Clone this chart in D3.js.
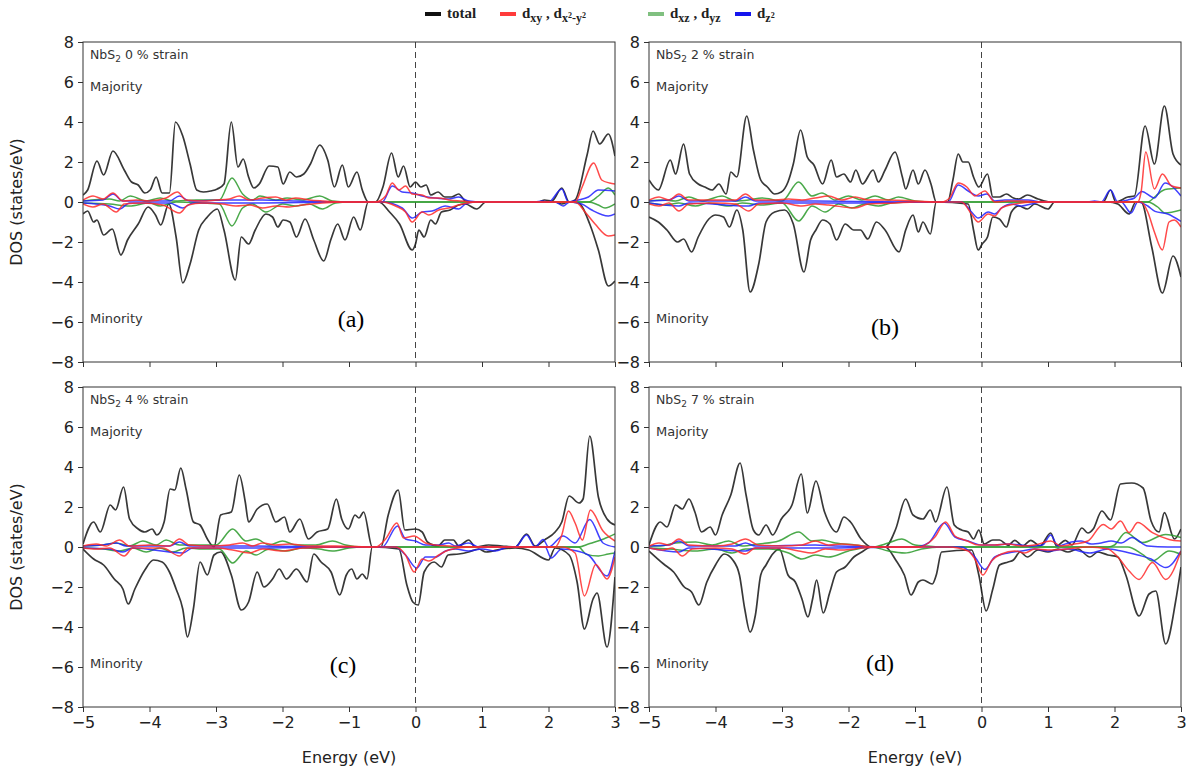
<!DOCTYPE html>
<html>
<head>
<meta charset="utf-8">
<script src="https://cdn.jsdelivr.net/npm/d3@7"></script>
<style>
  body { margin: 0; background: #fff; }
  text { font-family: "DejaVu Sans", sans-serif; }
  text.serif, text.serif tspan { font-family: "Liberation Serif", "Times New Roman", serif; }
</style>
</head>
<body>
<svg id="chart" width="1197" height="774"></svg>
<script>
// ---- data: [energy (eV), DOS (states/eV)] ----
const xTicks = [-5, -4, -3, -2, -1, 0, 1, 2, 3];
const yTicks = [-8, -6, -4, -2, 0, 2, 4, 6, 8];
const strains = ['0', '2', '4', '7'];
const tags = ['(a)', '(b)', '(c)', '(d)'];

// panel (a) 0 % strain
const totalUpA = [[-5,0.35],[-4.93,0.6],[-4.79,2.05],[-4.69,1.35],[-4.55,2.55],[-4.38,1.6],[-4.27,1.0],[-4.17,0.85],[-4.07,0.45],[-3.99,0.6],[-3.9,1.25],[-3.81,0.45],[-3.7,0.45],[-3.61,4.0],[-3.5,3.3],[-3.39,1.9],[-3.29,0.6],[-3.19,0.5],[-3.08,0.55],[-2.98,0.65],[-2.88,0.9],[-2.77,4.0],[-2.67,1.75],[-2.59,2.15],[-2.51,1.25],[-2.43,0.7],[-2.35,0.9],[-2.2,1.8],[-2.07,1.75],[-1.99,0.9],[-1.89,1.5],[-1.79,1.25],[-1.68,1.4],[-1.58,1.9],[-1.44,2.85],[-1.32,2.1],[-1.22,0.75],[-1.1,1.85],[-1.01,0.75],[-0.88,1.5],[-0.8,0.6],[-0.71,0],[-0.6,0],[-0.49,0.75],[-0.36,2.45],[-0.26,1.25],[-0.18,1.8],[-0.08,0.75],[0,1.0],[0.08,0.75],[0.16,0.85],[0.23,0.35],[0.34,0.5],[0.44,0.25],[0.54,0.25],[0.65,0.4],[0.75,0.05],[0.9,0],[1.85,0],[1.94,0.1],[2.05,0.05],[2.2,0.7],[2.31,0],[2.4,0.1],[2.58,2.35],[2.67,3.55],[2.77,2.9],[2.9,3.4],[3,2.3]];
const totalDnA = [[-5,-0.6],[-4.93,-0.45],[-4.84,-1.0],[-4.79,-0.9],[-4.69,-1.65],[-4.56,-1.35],[-4.43,-2.65],[-4.33,-1.9],[-4.17,-1.1],[-4.02,-0.25],[-3.91,-0.65],[-3.83,-1.15],[-3.71,-0.1],[-3.6,-1.75],[-3.5,-4.05],[-3.39,-3.1],[-3.26,-1.4],[-3.13,-0.75],[-2.98,-0.35],[-2.88,-1.4],[-2.71,-3.9],[-2.62,-1.75],[-2.51,-2.1],[-2.41,-1.4],[-2.25,-0.6],[-2.15,-0.75],[-2.07,-1.25],[-1.99,-0.9],[-1.89,-1.0],[-1.79,-1.75],[-1.66,-0.85],[-1.53,-1.9],[-1.38,-2.95],[-1.27,-1.85],[-1.17,-1.1],[-1.06,-1.9],[-0.93,-0.75],[-0.83,-1.4],[-0.71,0],[-0.55,0],[-0.39,-0.5],[-0.24,-1.1],[-0.05,-2.4],[0,-2.1],[0.05,-1.4],[0.13,-1.75],[0.23,-0.9],[0.3,-1.1],[0.39,-0.5],[0.52,-0.4],[0.65,-0.15],[0.75,-0.1],[0.92,-0.35],[1.06,0],[2.1,0],[2.2,-0.1],[2.3,0],[2.45,-0.05],[2.62,-1.1],[2.75,-2.4],[2.9,-4.2],[3,-3.95]];
const dxyUpA = [[-5,0.1],[-4.85,0.3],[-4.7,0.15],[-4.55,0.45],[-4.4,0.05],[-4.2,0.1],[-4,0.05],[-3.75,0.2],[-3.58,0.5],[-3.45,0.1],[-3.2,0.05],[-3,0.1],[-2.8,0.15],[-2.65,0.3],[-2.5,0.1],[-2.3,0.2],[-2.1,0.25],[-1.95,0.1],[-1.8,0.2],[-1.6,0.1],[-1.4,0.05],[-1.0,0],[-0.6,0],[-0.45,0.3],[-0.35,0.95],[-0.25,0.6],[-0.15,0.8],[-0.05,0.4],[0.1,0.35],[0.2,0.2],[0.35,0.2],[0.5,0.1],[0.7,0.05],[0.9,0],[2.4,0],[2.5,0.7],[2.68,1.95],[2.8,1.1],[2.92,0.95],[3,0.9]];
const dxyDnA = [[-5,-0.1],[-4.85,-0.25],[-4.7,-0.1],[-4.5,-0.5],[-4.38,-0.1],[-4.1,-0.05],[-3.8,-0.15],[-3.55,-0.55],[-3.42,-0.15],[-3.2,-0.05],[-2.9,-0.1],[-2.7,-0.2],[-2.5,-0.15],[-2.3,-0.3],[-2.1,-0.2],[-1.9,-0.25],[-1.7,-0.15],[-1.4,-0.05],[-1,0],[-0.5,0],[-0.3,-0.2],[-0.15,-0.5],[-0.05,-1.0],[0.1,-0.5],[0.2,-0.65],[0.35,-0.4],[0.5,-0.3],[0.65,-0.15],[0.9,0],[2.4,0],[2.55,-0.5],[2.7,-1.1],[2.9,-1.7],[3,-1.65]];
const dxzUpA = [[-5,0.05],[-4.6,0.15],[-4.45,0.05],[-4.29,0.3],[-4.05,0.05],[-3.84,0.2],[-3.65,0.05],[-3.3,0.1],[-2.95,0.1],[-2.76,1.2],[-2.6,0.4],[-2.45,0.1],[-2.34,0.3],[-2.1,0.1],[-1.93,0.2],[-1.7,0.1],[-1.44,0.3],[-1.25,0.05],[-1,0],[2.6,0],[2.75,0.3],[2.9,0.7],[3,0.35]];
const dxzDnA = [[-5,-0.05],[-4.6,-0.1],[-4.3,-0.2],[-4.0,-0.05],[-3.84,-0.2],[-3.6,0],[-3.2,-0.05],[-2.95,-0.1],[-2.76,-1.2],[-2.6,-0.3],[-2.45,-0.1],[-2.25,-0.5],[-2.0,-0.1],[-1.8,-0.2],[-1.6,-0.1],[-1.4,-0.35],[-1.2,-0.05],[-1,0],[2.6,0],[2.75,-0.15],[2.85,-0.3],[3,-0.1]];
const dz2UpA = [[-5,0.05],[-4.7,0.1],[-4.55,0.4],[-4.4,0.05],[-3.7,0.05],[-3.55,0.3],[-3.4,0.05],[-2.8,0.1],[-2.3,0.1],[-1.8,0.05],[-1,0],[-0.5,0],[-0.35,0.8],[-0.2,0.5],[-0.05,0.45],[0.1,0.3],[0.3,0.2],[0.5,0.15],[0.65,0.25],[0.8,0.05],[1,0],[1.8,0],[1.9,0.05],[2.0,0],[2.2,0.65],[2.3,0],[2.45,0.1],[2.6,0.25],[2.75,0.6],[3,0.55]];
const dz2DnA = [[-5,-0.05],[-4.6,-0.2],[-4.45,-0.35],[-4.3,-0.05],[-3.7,-0.05],[-3.5,-0.3],[-3.35,-0.05],[-2.5,-0.05],[-1,0],[-0.5,0],[-0.2,-0.3],[-0.05,-0.8],[0.1,-0.5],[0.25,-0.45],[0.45,-0.2],[0.65,-0.35],[0.75,-0.1],[0.9,0],[2.1,0],[2.22,-0.2],[2.32,0],[2.5,-0.1],[2.65,-0.4],[2.9,-0.7],[3,-0.6]];

// panel (b) 2 % strain
const totalUpB = [[-5,1.1],[-4.86,0.6],[-4.68,2.1],[-4.6,1.4],[-4.48,2.9],[-4.39,1.4],[-4.26,0.9],[-4.16,0.75],[-4.05,0.6],[-3.95,0.9],[-3.84,0.4],[-3.77,1.5],[-3.68,1.25],[-3.53,4.3],[-3.43,2.6],[-3.32,1.1],[-3.22,0.75],[-3.11,0.4],[-3.01,0.5],[-2.91,1.0],[-2.83,1.9],[-2.72,3.6],[-2.62,2.25],[-2.52,1.85],[-2.39,0.9],[-2.26,2.1],[-2.18,1.25],[-2.07,1.4],[-1.97,1.0],[-1.89,1.6],[-1.79,0.9],[-1.63,1.6],[-1.55,1.0],[-1.45,1.6],[-1.3,2.5],[-1.19,1.25],[-1.14,0.65],[-1.03,1.6],[-0.95,0.9],[-0.85,1.6],[-0.76,0.9],[-0.68,0],[-0.51,0],[-0.43,1.1],[-0.35,2.4],[-0.28,2.0],[-0.2,2.0],[-0.12,1.25],[-0.04,0.75],[0.09,1.4],[0.17,0.25],[0.27,0.25],[0.375,0.4],[0.48,0.2],[0.56,0.15],[0.69,0.35],[0.85,0.15],[1.03,0],[1.83,0],[1.94,0.6],[2.02,0],[2.2,0.25],[2.3,0.3],[2.46,3.8],[2.6,1.9],[2.75,4.8],[2.88,2.4],[3,1.85]];
const totalDnB = [[-5,-0.75],[-4.86,-1.0],[-4.73,-1.4],[-4.57,-2.0],[-4.48,-1.85],[-4.36,-2.5],[-4.26,-1.75],[-4.1,-0.85],[-4.0,-0.65],[-3.88,-0.75],[-3.79,-1.25],[-3.68,-0.4],[-3.59,-1.4],[-3.48,-4.5],[-3.35,-3.1],[-3.24,-1.0],[-3.11,-0.5],[-2.96,-0.4],[-2.83,-1.1],[-2.67,-3.5],[-2.57,-1.9],[-2.49,-1.4],[-2.39,-0.9],[-2.28,-1.1],[-2.18,-1.9],[-2.05,-1.1],[-1.92,-1.4],[-1.82,-1.4],[-1.71,-1.85],[-1.58,-1.0],[-1.45,-1.4],[-1.24,-2.5],[-1.14,-1.4],[-1.03,-0.65],[-0.95,-1.5],[-0.88,-1.0],[-0.77,-1.6],[-0.68,0],[-0.2,-0.1],[-0.12,-1.4],[-0.05,-2.4],[0.01,-2.1],[0.09,-1.75],[0.17,-0.75],[0.27,-0.85],[0.375,-1.25],[0.45,-0.5],[0.56,-0.2],[0.69,-0.35],[0.8,-0.1],[1.0,-0.35],[1.1,0],[1.9,0],[2.05,-0.1],[2.22,-0.6],[2.32,0],[2.4,0],[2.56,-2.25],[2.72,-4.55],[2.88,-2.7],[3,-3.75]];
const dxyUpB = [[-5,0.1],[-4.85,0.25],[-4.7,0.1],[-4.55,0.4],[-4.4,0.1],[-4.1,0.1],[-3.7,0.1],[-3.55,0.4],[-3.4,0.1],[-3.1,0.1],[-2.9,0.15],[-2.7,0.1],[-2.5,0.2],[-2.3,0.3],[-2.1,0.1],[-1.9,0.25],[-1.7,0.1],[-1.4,0.1],[-1.0,0.05],[-0.6,0],[-0.48,0.2],[-0.35,0.95],[-0.22,0.75],[-0.1,0.3],[0.05,0.55],[0.2,0],[0.4,0.05],[0.6,0.05],[0.9,0],[2.35,0],[2.4,0.5],[2.47,2.5],[2.6,0.65],[2.72,1.4],[2.86,0.8],[3,0.7]];
const dxyDnB = [[-5,-0.1],[-4.85,-0.2],[-4.7,-0.05],[-4.55,-0.45],[-4.4,-0.1],[-4.0,-0.05],[-3.7,-0.1],[-3.5,-0.45],[-3.35,-0.1],[-3.0,-0.05],[-2.7,-0.2],[-2.5,-0.1],[-2.3,-0.15],[-1.9,-0.3],[-1.7,-0.1],[-1.3,-0.05],[-1,0],[-0.3,0],[-0.15,-0.6],[-0.05,-1.0],[0.1,-0.6],[0.2,-0.7],[0.3,-0.3],[0.5,-0.1],[0.8,0],[2.4,0],[2.5,-0.5],[2.6,-1.5],[2.72,-2.4],[2.82,-1.0],[2.9,-0.9],[3,-1.25]];
const dxzUpB = [[-5,0.05],[-4.8,0.1],[-4.6,0.05],[-4.4,0.25],[-4.2,0.05],[-3.9,0.3],[-3.7,0.05],[-3.5,0.1],[-3.3,0.2],[-3.0,0.05],[-2.75,1.0],[-2.55,0.3],[-2.4,0.45],[-2.2,0.1],[-2.0,0.3],[-1.8,0.1],[-1.6,0.3],[-1.4,0.1],[-1.25,0.25],[-1.0,0.05],[-0.7,0],[2.5,0],[2.62,0.3],[2.76,0.62],[3,0.7]];
const dxzDnB = [[-5,-0.05],[-4.75,-0.15],[-4.55,-0.05],[-4.3,-0.2],[-4.1,-0.05],[-3.8,-0.2],[-3.6,-0.05],[-3.3,-0.15],[-3.0,-0.05],[-2.75,-0.95],[-2.55,-0.2],[-2.35,-0.5],[-2.15,-0.1],[-1.95,-0.3],[-1.75,-0.1],[-1.55,-0.2],[-1.35,-0.05],[-1.0,0],[2.5,0],[2.65,-0.25],[2.76,-0.55],[3,-0.4]];
const dz2UpB = [[-5,0.05],[-4.7,0.1],[-4.55,0.3],[-4.4,0.05],[-3.7,0.05],[-3.55,0.25],[-3.4,0.05],[-2.5,0.05],[-1,0],[-0.5,0],[-0.35,0.85],[-0.2,0.55],[-0.05,0.3],[0.08,0.4],[0.2,0.05],[0.35,0.1],[0.5,0.1],[0.7,0.1],[0.9,0],[1.6,0],[1.7,0.05],[1.8,0],[1.94,0.6],[2.05,0],[2.2,0.1],[2.3,0.2],[2.41,0.53],[2.6,0.2],[2.76,0.95],[3,0.3]];
const dz2DnB = [[-5,-0.05],[-4.55,-0.2],[-4.4,-0.05],[-3.5,-0.2],[-3.35,-0.05],[-2,-0.05],[-1,0],[-0.3,0],[-0.15,-0.5],[-0.05,-0.8],[0.1,-0.5],[0.2,-0.6],[0.3,-0.3],[0.45,-0.1],[0.6,-0.2],[0.75,-0.1],[0.9,0],[2.1,0],[2.25,-0.55],[2.35,0],[2.5,-0.2],[2.61,-0.47],[2.8,-0.6],[3,-0.97]];

// panel (c) 4 % strain
const totalUpC = [[-5,0.15],[-4.84,1.25],[-4.74,0.75],[-4.59,2.1],[-4.51,1.85],[-4.39,3.0],[-4.3,1.4],[-4.17,0.9],[-4.07,0.75],[-3.96,0.9],[-3.89,0.6],[-3.78,1.25],[-3.69,2.9],[-3.62,2.85],[-3.53,3.95],[-3.45,2.9],[-3.34,1.25],[-3.24,1.1],[-3.13,0.4],[-3.03,0],[-2.93,1.6],[-2.77,1.75],[-2.65,3.6],[-2.56,2.25],[-2.51,1.25],[-2.38,1.9],[-2.23,2.15],[-2.1,1.25],[-1.97,1.5],[-1.89,0.75],[-1.74,1.4],[-1.61,0.4],[-1.48,0.75],[-1.32,0.9],[-1.19,2.4],[-1.11,1.4],[-1.01,0.9],[-0.91,1.6],[-0.85,1.45],[-0.78,1.75],[-0.65,0],[-0.52,0],[-0.41,1.6],[-0.26,2.85],[-0.16,0.85],[0,0.9],[0.1,0.75],[0.18,0.25],[0.34,0.05],[0.44,0.35],[0.57,0.35],[0.65,0.05],[0.8,0.35],[0.9,0],[1.1,0.1],[1.3,0.05],[1.5,0],[1.67,0.65],[1.8,0.05],[1.94,0.35],[2.1,0.75],[2.2,1.25],[2.31,2.55],[2.46,2.2],[2.52,2.4],[2.62,5.55],[2.75,2.5],[2.88,1.4],[3,1.1]];
const totalDnC = [[-5,-0.1],[-4.84,-0.6],[-4.69,-0.9],[-4.53,-1.6],[-4.4,-2.1],[-4.32,-2.85],[-4.22,-2.1],[-4.07,-1.15],[-3.94,-0.65],[-3.81,-0.75],[-3.7,-1.25],[-3.6,-2.1],[-3.5,-3.1],[-3.43,-4.5],[-3.34,-3.1],[-3.24,-0.75],[-3.13,-1.4],[-3.03,-0.4],[-2.93,-0.25],[-2.77,-1.4],[-2.62,-3.15],[-2.51,-2.75],[-2.38,-1.25],[-2.28,-2.0],[-2.15,-1.6],[-2.05,-1.1],[-1.94,-1.6],[-1.79,-1.1],[-1.63,-1.75],[-1.53,-0.35],[-1.42,-0.75],[-1.27,-1.25],[-1.14,-2.4],[-1.04,-1.4],[-0.96,-1.1],[-0.88,-1.6],[-0.8,-1.35],[-0.73,-1.6],[-0.65,0],[-0.25,-0.1],[-0.13,-1.9],[-0.04,-2.75],[0.04,-2.9],[0.13,-1.25],[0.28,-0.75],[0.39,-1.0],[0.49,-0.4],[0.65,-0.35],[0.8,-0.25],[0.95,-0.1],[1.06,-0.25],[1.3,-0.1],[1.5,-0.05],[1.7,-0.15],[2.0,-0.65],[2.1,-0.05],[2.31,-0.4],[2.43,-1.75],[2.54,-4.1],[2.67,-2.6],[2.73,-2.3],[2.88,-5.0],[3,-1.5]];
const dxyUpC = [[-5,0.05],[-4.8,0.15],[-4.65,0.05],[-4.45,0.35],[-4.3,0.05],[-4.0,0.1],[-3.7,0.05],[-3.55,0.4],[-3.4,0.1],[-3.1,0.05],[-2.8,0.1],[-2.6,0.2],[-2.45,0.05],[-2.3,0.2],[-2.1,0.1],[-1.9,0.15],[-1.6,0.05],[-1.2,0.05],[-0.6,0],[-0.45,0.4],[-0.28,1.2],[-0.18,0.45],[-0.02,0.55],[0.15,0.2],[0.3,0.1],[0.5,0.05],[0.8,0],[2.1,0],[2.2,0.6],[2.3,1.8],[2.4,1.2],[2.51,0.35],[2.63,1.85],[2.82,0.8],[3,0.3]];
const dxyDnC = [[-5,-0.05],[-4.8,-0.1],[-4.6,-0.05],[-4.38,-0.45],[-4.25,-0.05],[-3.8,-0.05],[-3.55,-0.45],[-3.42,-0.05],[-3.0,-0.05],[-2.75,-0.15],[-2.5,-0.3],[-2.3,-0.1],[-2.0,-0.2],[-1.7,-0.05],[-1,0],[-0.3,0],[-0.15,-0.4],[-0.02,-1.25],[0.1,-0.6],[0.2,-0.7],[0.35,-0.4],[0.5,-0.15],[0.8,0],[2.2,0],[2.4,-0.3],[2.54,-2.45],[2.71,-0.87],[2.88,-1.6],[3,-0.5]];
const dxzUpC = [[-5,0.05],[-4.7,0.1],[-4.5,0.2],[-4.3,0.05],[-4.1,0.3],[-3.9,0.1],[-3.75,0.35],[-3.55,0.1],[-3.3,0.1],[-3.0,0.1],[-2.75,0.9],[-2.55,0.3],[-2.4,0.4],[-2.2,0.1],[-2.0,0.3],[-1.8,0.1],[-1.5,0.1],[-1.25,0.3],[-1.05,0.1],[-0.8,0],[2.45,0],[2.6,0.15],[2.83,0.4],[3,0.65]];
const dxzDnC = [[-5,-0.05],[-4.7,-0.1],[-4.45,-0.2],[-4.25,-0.05],[-4.05,-0.25],[-3.85,-0.05],[-3.65,-0.25],[-3.45,-0.05],[-3.2,-0.1],[-2.95,-0.1],[-2.75,-0.8],[-2.55,-0.2],[-2.4,-0.4],[-2.2,-0.1],[-1.95,-0.2],[-1.7,-0.05],[-1.45,-0.1],[-1.25,-0.2],[-1.0,-0.05],[-0.8,0],[2.45,0],[2.57,-0.37],[2.75,-0.45],[2.9,-0.35],[3,-0.3]];
const dz2UpC = [[-5,0.05],[-4.7,0.1],[-4.5,0.2],[-4.35,0.05],[-3.7,0.05],[-3.55,0.25],[-3.4,0.05],[-2.5,0.05],[-1,0],[-0.5,0],[-0.27,1.05],[-0.15,0.4],[0,0.3],[0.15,0.1],[0.35,0.1],[0.5,0.2],[0.6,0.05],[0.8,0.2],[0.95,0],[1.5,0],[1.67,0.6],[1.8,0],[1.92,0.38],[2.0,0],[2.22,0.55],[2.4,0.2],[2.62,1.38],[2.82,0.2],[3,0]];
const dz2DnC = [[-5,-0.05],[-4.6,-0.1],[-4.4,-0.25],[-4.25,-0.05],[-3.5,-0.3],[-3.35,-0.05],[-2.5,-0.05],[-1,0],[-0.3,0],[-0.15,-0.4],[0.02,-1.05],[0.15,-0.5],[0.3,-0.5],[0.45,-0.2],[0.6,-0.1],[0.8,-0.2],[1.0,-0.1],[1.2,-0.2],[1.4,0],[1.95,0],[2.04,-0.55],[2.2,-0.1],[2.43,-0.2],[2.6,-0.4],[2.88,-1.45],[3,-0.2]];

// panel (d) 7 % strain
const totalUpD = [[-5,0.1],[-4.83,1.25],[-4.73,1.0],[-4.6,2.1],[-4.5,1.9],[-4.4,2.4],[-4.31,1.75],[-4.21,0.75],[-4.08,1.0],[-4.0,0.6],[-3.9,1.6],[-3.77,2.6],[-3.63,4.2],[-3.54,2.6],[-3.43,0.85],[-3.35,0.6],[-3.24,1.1],[-3.14,0.6],[-3.01,1.4],[-2.85,2.1],[-2.71,3.65],[-2.62,1.7],[-2.49,3.3],[-2.36,1.75],[-2.18,0.75],[-2.07,1.5],[-1.97,1.25],[-1.81,0.4],[-1.66,0],[-1.45,0],[-1.29,0.9],[-1.14,2.4],[-1.03,1.6],[-0.88,1.4],[-0.77,1.85],[-0.69,1.25],[-0.52,3.0],[-0.41,1.1],[-0.3,0.85],[-0.2,0.75],[-0.12,0.4],[-0.04,0.85],[0.04,0.15],[0.17,0.35],[0.27,0.35],[0.4,0.08],[0.5,0.33],[0.62,0.05],[0.74,0.33],[0.88,0.05],[1.04,0.7],[1.13,0.05],[1.26,0.33],[1.36,0.1],[1.51,0.95],[1.6,0.7],[1.68,0.9],[1.81,1.8],[1.94,1.35],[2.09,3.15],[2.26,3.2],[2.43,2.95],[2.55,1.3],[2.67,0.75],[2.75,1.72],[2.9,0.4],[3,0.9]];
const totalDnD = [[-5,-0.2],[-4.78,-0.85],[-4.63,-1.25],[-4.47,-2.0],[-4.36,-2.25],[-4.25,-2.9],[-4.13,-1.75],[-4.0,-0.9],[-3.87,-0.35],[-3.74,-0.65],[-3.64,-1.4],[-3.56,-3.1],[-3.48,-4.25],[-3.4,-3.4],[-3.32,-1.4],[-3.24,-0.9],[-3.14,-0.35],[-3.04,-0.1],[-2.91,-1.4],[-2.8,-1.75],[-2.7,-2.6],[-2.61,-3.5],[-2.54,-2.6],[-2.48,-1.65],[-2.38,-3.3],[-2.28,-2.25],[-2.18,-1.25],[-2.05,-1.0],[-1.92,-0.5],[-1.8,-0.25],[-1.66,0],[-1.45,0],[-1.29,-0.65],[-1.16,-1.4],[-1.06,-2.4],[-0.95,-1.75],[-0.88,-1.65],[-0.74,-1.85],[-0.68,-1.4],[-0.6,-0.25],[-0.15,-0.15],[-0.04,-1.4],[0.07,-3.2],[0.17,-2.1],[0.27,-0.9],[0.4,-0.75],[0.48,-0.65],[0.58,-0.25],[0.69,-0.5],[0.85,-0.15],[1.0,-0.25],[1.15,-0.1],[1.3,-0.25],[1.45,-0.1],[1.63,-0.5],[1.75,-0.25],[1.9,-0.4],[2.05,-0.5],[2.17,-1.4],[2.37,-3.45],[2.52,-2.35],[2.62,-2.2],[2.77,-4.85],[2.92,-2.7],[3,-1.0]];
const dxyUpD = [[-5,0.05],[-4.85,0.2],[-4.7,0.1],[-4.55,0.4],[-4.4,0.1],[-4.0,0.05],[-3.75,0.15],[-3.55,0.4],[-3.35,0.1],[-3.0,0.05],[-2.7,0.1],[-2.5,0.3],[-2.3,0.1],[-2.1,0.15],[-1.9,0.1],[-1.6,0],[-0.95,0],[-0.8,0.2],[-0.7,0.5],[-0.54,1.25],[-0.4,0.55],[-0.3,0.4],[-0.21,0.3],[-0.05,0.1],[0.2,0.1],[0.4,0.15],[0.6,0.05],[0.8,0.1],[1.04,0.3],[1.2,0.05],[1.4,0.15],[1.6,0.3],[1.83,1.13],[1.95,0.9],[2.09,1.3],[2.22,0.72],[2.35,1.22],[2.57,0.72],[2.82,0.38],[3,0.3]];
const dxyDnD = [[-5,-0.05],[-4.8,-0.15],[-4.65,-0.05],[-4.5,-0.45],[-4.35,-0.1],[-4.0,-0.05],[-3.75,-0.1],[-3.55,-0.35],[-3.4,-0.05],[-3.0,-0.05],[-2.75,-0.2],[-2.55,-0.3],[-2.35,-0.1],[-2.1,-0.15],[-1.8,-0.05],[-1.6,0],[-0.5,0],[-0.2,-0.2],[-0.1,-0.6],[0.02,-1.4],[0.15,-0.7],[0.3,-0.35],[0.5,-0.2],[0.65,-0.3],[0.8,-0.1],[1.0,-0.15],[1.3,-0.1],[1.6,0],[1.9,-0.1],[2.05,-0.5],[2.22,-1.2],[2.37,-1.62],[2.57,-0.78],[2.77,-1.62],[3,-0.2]];
const dxzUpD = [[-5,0.05],[-4.85,0.05],[-4.6,0.2],[-4.3,0.25],[-4.05,0.1],[-3.8,0.3],[-3.6,0.05],[-3.35,0.15],[-3.05,0.3],[-2.75,0.75],[-2.55,0.3],[-2.4,0.35],[-2.2,0.2],[-1.9,0.1],[-1.65,0],[-1.4,0.2],[-1.2,0.4],[-1.0,0.1],[-0.8,0.05],[-0.6,0],[1.9,0],[2.0,0.1],[2.17,0.72],[2.42,0.22],[2.77,0.63],[3,0.47]];
const dxzDnD = [[-5,-0.05],[-4.7,-0.1],[-4.3,-0.2],[-4.0,-0.1],[-3.75,-0.3],[-3.55,-0.1],[-3.2,-0.1],[-2.9,-0.3],[-2.7,-0.6],[-2.5,-0.4],[-2.3,-0.5],[-2.0,-0.2],[-1.65,0],[-1.4,-0.2],[-1.15,-0.3],[-0.9,-0.1],[-0.6,0],[2.2,0],[2.42,-0.37],[2.57,-0.7],[2.82,-0.2],[3,-0.37]];
const dz2UpD = [[-5,0.05],[-4.7,0.1],[-4.55,0.3],[-4.4,0.05],[-3.7,0.05],[-3.55,0.2],[-3.4,0.05],[-2.5,0.1],[-2.2,0.05],[-1,0],[-0.8,0.2],[-0.56,1.2],[-0.4,0.5],[-0.2,0.3],[0,0.1],[0.2,0.1],[0.4,0.15],[0.6,0.1],[0.75,0.05],[0.92,0.1],[1.04,0.6],[1.15,0.05],[1.35,0.25],[1.5,0.3],[1.65,0.15],[1.8,0.2],[1.95,0.3],[2.1,0.2],[2.26,0.47],[2.5,0.05],[2.8,0],[3,0]];
const dz2DnD = [[-5,-0.05],[-4.55,-0.25],[-4.4,-0.05],[-3.55,-0.2],[-3.4,-0.05],[-2.5,-0.05],[-1,0],[-0.3,0],[-0.1,-0.5],[0.05,-1.12],[0.2,-0.5],[0.4,-0.3],[0.6,-0.2],[0.8,-0.1],[1.0,-0.2],[1.3,-0.1],[1.63,-0.3],[1.9,-0.1],[2.1,-0.2],[2.35,-0.4],[2.55,-0.6],[2.77,-1.03],[3,-0.2]];

// ---- assemble panels ----
const panelData = [
  {total: [totalUpA, totalDnA], dxz: [dxzUpA, dxzDnA], dz2: [dz2UpA, dz2DnA], dxy: [dxyUpA, dxyDnA]},
  {total: [totalUpB, totalDnB], dxz: [dxzUpB, dxzDnB], dz2: [dz2UpB, dz2DnB], dxy: [dxyUpB, dxyDnB]},
  {total: [totalUpC, totalDnC], dxz: [dxzUpC, dxzDnC], dz2: [dz2UpC, dz2DnC], dxy: [dxyUpC, dxyDnC]},
  {total: [totalUpD, totalDnD], dxz: [dxzUpD, dxzDnD], dz2: [dz2UpD, dz2DnD], dxy: [dxyUpD, dxyDnD]}
];

const colors = {total: '#222', dxy: '#ff2a2a', dxz: '#2a9a2a', dz2: '#2020ff'};
const drawOrder = ['total', 'dxz', 'dz2', 'dxy'];

const svg = d3.select('#chart');
const pw = 532, ph = 320;
const origins = [[83, 42], [649, 42], [83, 387], [649, 387]];
const tagPos = [[268, 285], [236, 293], [260, 286], [231, 284]];

panelData.forEach((pd, i) => {
  const [ox, oy] = origins[i];
  const x = d3.scaleLinear().domain([-5, 3]).range([0, pw]);
  const y = d3.scaleLinear().domain([-8, 8]).range([ph, 0]);
  const g = svg.append('g').attr('transform', `translate(${ox},${oy})`);

  g.append('clipPath').attr('id', 'clip' + i)
    .append('rect').attr('width', pw).attr('height', ph);

  const line = d3.line()
    .x(d => x(d[0]))
    .y(d => y(d[1]))
    .curve(d3.curveMonotoneX);

  const plot = g.append('g').attr('clip-path', `url(#clip${i})`);

  // fermi level
  plot.append('line')
    .attr('x1', x(0)).attr('x2', x(0))
    .attr('y1', 0).attr('y2', ph)
    .attr('stroke', '#444').attr('stroke-width', 1)
    .attr('stroke-dasharray', '6,4');

  drawOrder.forEach(k => {
    pd[k].forEach(s => {
      plot.append('path')
        .attr('d', line(s))
        .attr('fill', 'none')
        .attr('stroke', colors[k])
        .attr('stroke-width', k === 'total' ? 1.7 : 1.5)
        .attr('stroke-linejoin', 'round')
        .attr('stroke-opacity', k === 'total' ? 0.9 : 0.85);
    });
  });

  // axes
  const yAxis = d3.axisLeft(y).tickValues(yTicks).tickSize(5).tickPadding(4);
  const xAxis = d3.axisBottom(x).tickValues(xTicks).tickSize(5).tickPadding(5);
  if (i < 2) xAxis.tickFormat('');

  const ya = g.append('g').call(yAxis);
  const xa = g.append('g').attr('transform', `translate(0,${ph})`).call(xAxis);
  [ya, xa].forEach(a => {
    a.select('.domain').remove();
    a.selectAll('line').attr('stroke', '#333');
    a.selectAll('text').attr('fill', '#222')
      .style('font-family', '"DejaVu Sans", sans-serif').style('font-size', '16px');
  });

  g.append('rect')
    .attr('width', pw).attr('height', ph)
    .attr('fill', 'none').attr('stroke', '#333').attr('stroke-width', 1);

  // annotations
  const t = g.append('text').attr('x', 7).attr('y', 17)
    .attr('fill', '#333').style('font-size', '12.5px');
  t.append('tspan').text('NbS');
  t.append('tspan').attr('dy', 3).style('font-size', '9px').text('2');
  t.append('tspan').attr('dy', -3).text(` ${strains[i]} % strain`);

  g.append('text').attr('x', 7).attr('y', 49).attr('fill', '#333')
    .style('font-size', '13px').text('Majority');
  g.append('text').attr('x', 7).attr('y', 281).attr('fill', '#333')
    .style('font-size', '13px').text('Minority');

  g.append('text').attr('class', 'serif')
    .attr('x', tagPos[i][0]).attr('y', tagPos[i][1])
    .attr('text-anchor', 'middle')
    .style('font-size', '24px').text(tags[i]);

  if (i % 2 === 0) {
    g.append('text')
      .attr('transform', `translate(${22 - ox},${ph / 2}) rotate(-90)`)
      .attr('text-anchor', 'middle').attr('fill', '#222')
      .style('font-size', '16px').text('DOS (states/eV)');
  }
  if (i >= 2) {
    g.append('text')
      .attr('x', pw / 2).attr('y', ph + 56)
      .attr('text-anchor', 'middle').attr('fill', '#222')
      .style('font-size', '16px').text('Energy (eV)');
  }
});

// ---- legend ----
const leg = svg.append('g');
const legendItems = [
  {x: 425, color: '#111', parts: [['total', 0]]},
  {x: 500, color: '#ff3b3b', parts: [['d', 0], ['xy', 1], [' , d', 0], ['x', 1], ['2', 2], ['-y', 1], ['2', 2]]},
  {x: 648, color: '#80c080', parts: [['d', 0], ['xz', 1], [' , d', 0], ['yz', 1]]},
  {x: 735, color: '#1515ee', parts: [['d', 0], ['z', 1], ['2', 2]]}
];
const sizes = ['15px', '12px', '8px'];
const offsets = [0, 4, 0];
legendItems.forEach(item => {
  leg.append('line')
    .attr('x1', item.x).attr('x2', item.x + 16)
    .attr('y1', 14).attr('y2', 14)
    .attr('stroke', item.color).attr('stroke-width', 4);
  const tx = leg.append('text').attr('class', 'serif')
    .attr('x', item.x + 22).attr('y', 18).attr('fill', '#222')
    .style('font-weight', 'bold');
  let base = 0;
  item.parts.forEach(([s, lv]) => {
    const target = offsets[lv];
    tx.append('tspan')
      .attr('dy', target - base)
      .style('font-size', sizes[lv])
      .text(s);
    base = target;
  });
});
</script>
</body>
</html>
